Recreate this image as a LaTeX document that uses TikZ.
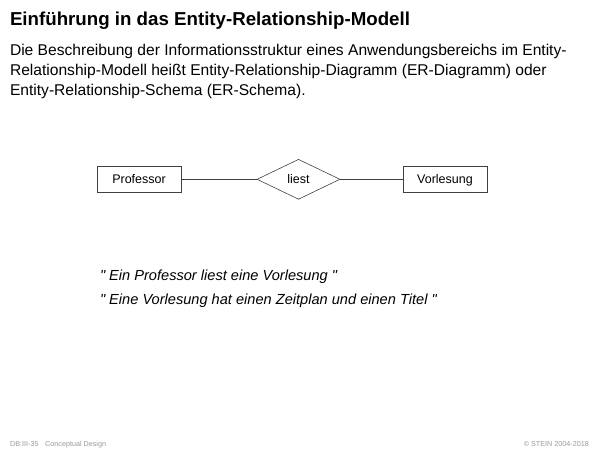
\documentclass[tikz,border=0pt]{standalone}
\usepackage{fontspec}
\setmainfont{Liberation Sans}[Ligatures=TeXOff]
\usetikzlibrary{shapes.geometric}
\begin{document}
\begin{tikzpicture}[x=1pt,y=-1pt,
  txt/.style={anchor=base west,inner sep=0pt,outer sep=0pt},
  entity/.style={draw=black!75,line width=0.6pt,minimum width=84pt,minimum height=25.5pt,inner sep=0pt,text height=10.5pt,text depth=1.5pt,font=\fontsize{12.5}{14}\selectfont},
  rel/.style={draw=black!75,line width=0.6pt,diamond,minimum width=83pt,minimum height=40pt,inner sep=0pt,aspect=2.07,text height=10.5pt,text depth=1.5pt,font=\fontsize{12.5}{14}\selectfont},
  conn/.style={draw=black!75,line width=0.6pt},
  foot/.style={anchor=base west,inner sep=0pt,text=black!40,font=\fontsize{7.2}{8}\selectfont}]
\useasboundingbox (0,0) rectangle (600,450);
\node[txt,font=\bfseries\fontsize{18.7}{21}\selectfont] (title) at (10,25) {Einführung in das Entity-Relationship-Modell};
\node[txt,font=\fontsize{15.6}{20}\selectfont] (l1) at (10,55.5) {Die Beschreibung der Informationsstruktur eines Anwendungsbereichs im Entity-};
\node[txt,font=\fontsize{15.6}{20}\selectfont] (l2) at (10,75.5) {Relationship-Modell heißt Entity-Relationship-Diagramm (ER-Diagramm) oder};
\node[txt,font=\fontsize{15.6}{20}\selectfont] (l3) at (10,95.5) {Entity-Relationship-Schema (ER-Schema).};
\node[entity] (prof) at (139,179.3) {Professor};
\node[rel] (liest) at (298.5,179.3) {liest};
\node[entity] (vorl) at (445,179.3) {Vorlesung};
\draw[conn] (prof.east) -- (liest.west);
\draw[conn] (liest.east) -- (vorl.west);
\node[txt,font=\itshape\fontsize{14.6}{17}\selectfont] (q1) at (100,280.5) {" Ein Professor liest eine Vorlesung "};
\node[txt,font=\itshape\fontsize{14.6}{17}\selectfont] (q2) at (100,304.5) {" Eine Vorlesung hat einen Zeitplan und einen Titel "};
\node[foot] (f1) at (10,446) {DB:III-35};
\node[foot] (f2) at (45,446) {Conceptual Design};
\node[foot,anchor=base east] (f3) at (589,446) {© STEIN 2004-2018};
\end{tikzpicture}
\end{document}
